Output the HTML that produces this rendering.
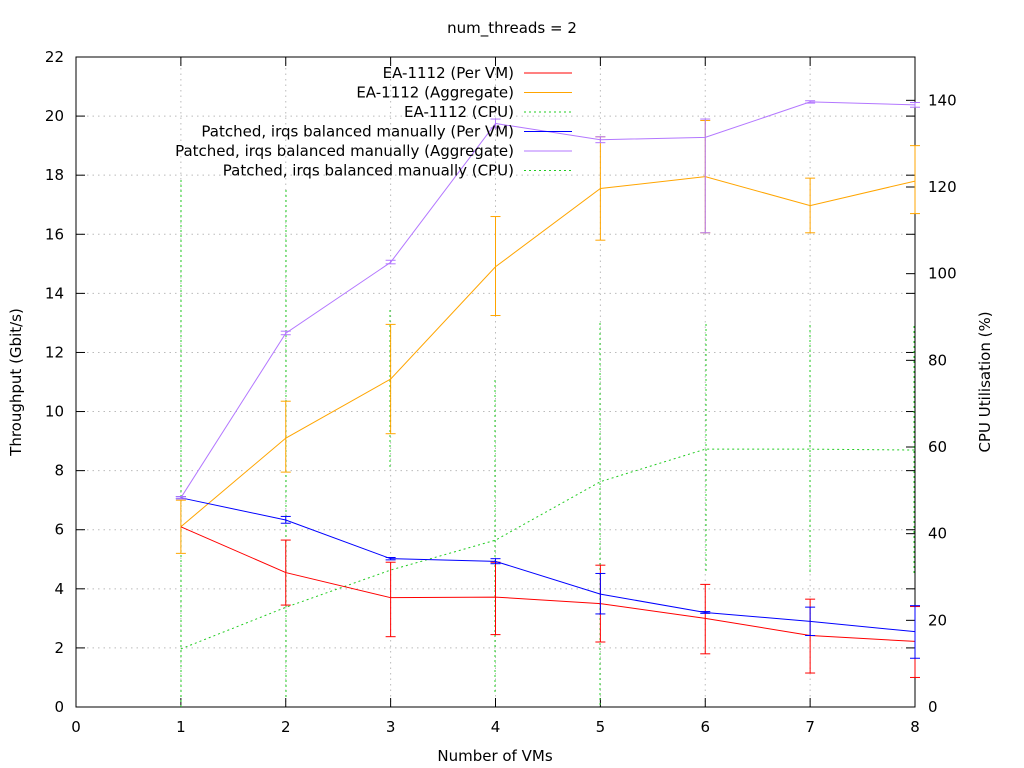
<!DOCTYPE html>
<html><head><meta charset="utf-8"><style>body{margin:0;background:#fff}svg{display:block;font-family:"DejaVu Sans","Liberation Sans",sans-serif}</style></head><body>
<svg id="s" width="1024" height="768" xmlns="http://www.w3.org/2000/svg"></svg>
<script>
var s=document.getElementById('s'),h='';
function X(v){return 76+104.875*v}function Y(v){return 707-650/22*v}function R(c){return 707-650/150*c}
h+='<rect width="1024" height="768" fill="#fff"/>';
for(var i=1;i<=8;i++)h+='<line x1="'+X(i)+'" y1="57" x2="'+X(i)+'" y2="707" stroke="#bbb" stroke-dasharray="1.5,4"/>';
for(var j=2;j<=22;j+=2)h+='<line x1="76" y1="'+Y(j)+'" x2="915" y2="'+Y(j)+'" stroke="#bbb" stroke-dasharray="1.5,4"/>';
h+='<rect x="76" y="57" width="839" height="650" fill="none" stroke="#000"/>';
var fs=15;
for(var j=0;j<=22;j+=2){h+='<line x1="76" y1="'+Y(j)+'" x2="85" y2="'+Y(j)+'" stroke="#000"/><line x1="915" y1="'+Y(j)+'" x2="906" y2="'+Y(j)+'" stroke="#000"/>';h+='<text x="64" y="'+(Y(j)+5)+'" text-anchor="end" font-size="'+fs+'">'+j+'</text>';}
for(var c=0;c<=140;c+=20){h+='<line x1="915" y1="'+R(c)+'" x2="906" y2="'+R(c)+'" stroke="#000"/>';h+='<text x="928" y="'+(R(c)+5)+'" font-size="'+fs+'">'+c+'</text>';}
for(var i=0;i<=8;i++){h+='<line x1="'+X(i)+'" y1="707" x2="'+X(i)+'" y2="698" stroke="#000"/><line x1="'+X(i)+'" y1="57" x2="'+X(i)+'" y2="66" stroke="#000"/>';h+='<text x="'+X(i)+'" y="732" text-anchor="middle" font-size="'+fs+'">'+i+'</text>';}
h+='<text x="512" y="33" text-anchor="middle" font-size="'+fs+'">num_threads = 2</text>';
h+='<text x="495" y="761" text-anchor="middle" font-size="'+fs+'">Number of VMs</text>';
h+='<text transform="translate(21,382) rotate(-90)" text-anchor="middle" font-size="'+fs+'">Throughput (Gbit/s)</text>';
h+='<text transform="translate(990,382) rotate(-90)" text-anchor="middle" font-size="'+fs+'">CPU Utilisation (%)</text>';
var ge=[[181,180,707],[286,190,700],[390,310,470],[495,380,695],[600,323,707],[706,324,574],[810,325,573],[914,326,575]];
ge.forEach(function(e){h+='<line x1="'+e[0]+'" y1="'+e[1]+'" x2="'+e[0]+'" y2="'+e[2]+'" stroke="#2c2" stroke-dasharray="2,3"/>';});
var gc=[13.4,23,31.6,38.5,52,59.5,59.5,59.3],p='';
gc.forEach(function(v,k){p+=X(k+1)+','+R(v)+' '});
h+='<polyline points="'+p+'" fill="none" stroke="#2c2" stroke-dasharray="2,3"/>';
function ser(col,d){var p='';d.forEach(function(a,k){var x=X(k+1);p+=x+','+Y(a[0])+' ';if(a[1]!=null){h+='<line x1="'+x+'" y1="'+Y(a[1])+'" x2="'+x+'" y2="'+Y(a[2])+'" stroke="'+col+'"/><line x1="'+(x-5)+'" y1="'+Y(a[1])+'" x2="'+(x+5)+'" y2="'+Y(a[1])+'" stroke="'+col+'"/><line x1="'+(x-5)+'" y1="'+Y(a[2])+'" x2="'+(x+5)+'" y2="'+Y(a[2])+'" stroke="'+col+'"/>';}});h+='<polyline points="'+p+'" fill="none" stroke="'+col+'"/>';}
ser('#ffa500',[[6.1,5.2,7.0],[9.1,7.95,10.35],[11.1,9.25,12.95],[14.9,13.25,16.6],[17.55,15.8,19.3],[17.95,16.05,19.85],[16.97,16.05,17.9],[17.8,16.7,19.0]]);
ser('#f00',[[6.1],[4.55,3.45,5.65],[3.7,2.38,4.9],[3.72,2.45,4.9],[3.5,2.2,4.8],[3.0,1.8,4.15],[2.42,1.15,3.65],[2.22,1.0,3.4]]);
ser('#00f',[[7.08,7.05,7.12],[6.33,6.22,6.45],[5.02,4.98,5.06],[4.93,4.85,5.02],[3.82,3.15,4.52],[3.2,3.17,3.23],[2.9,2.42,3.38],[2.55,1.65,3.43]]);
ser('#b377ff',[[7.08,7.05,7.12],[12.65,12.6,12.72],[15.05,15.0,15.12],[19.75,19.6,19.9],[19.2,19.1,19.3],[19.28,16.05,19.9],[20.48,20.44,20.52],[20.38,20.3,20.46]]);
var L=[['EA-1112 (Per VM)','#f00',0],['EA-1112 (Aggregate)','#ffa500',0],['EA-1112 (CPU)','#2c2',1],['Patched, irqs balanced manually (Per VM)','#00f',0],['Patched, irqs balanced manually (Aggregate)','#b377ff',0],['Patched, irqs balanced manually (CPU)','#2c2',1]];
L.forEach(function(l,k){var y=73+19.5*k;h+='<text x="514" y="'+(y+5)+'" text-anchor="end" font-size="'+fs+'">'+l[0]+'</text><line x1="524" y1="'+y+'" x2="572" y2="'+y+'" stroke="'+l[1]+'"'+(l[2]?' stroke-dasharray="2,3"':'')+'/>';});
s.innerHTML=h;
</script>
</body></html>
